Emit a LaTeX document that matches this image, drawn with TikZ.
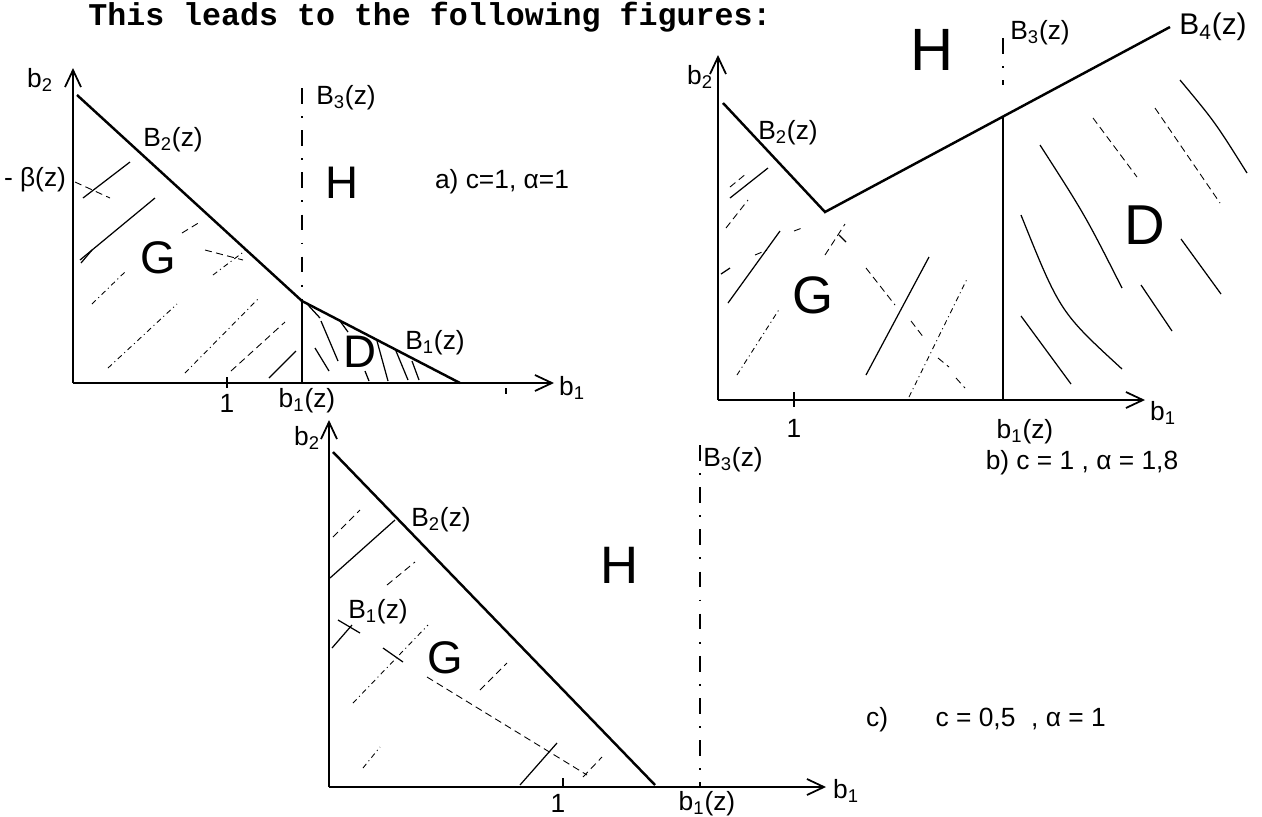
\documentclass[tikz,border=0pt]{standalone}
\usepackage{fontspec}
\setmainfont{Liberation Sans}
\newfontfamily\typewriter{Liberation Mono}
\usepackage{tikz}
\usetikzlibrary{arrows.meta}

\begin{document}
\begin{tikzpicture}[
  x=0.02cm, y=-0.02cm,
  axis/.style={line width=0.9pt, -{Straight Barb[length=3.4mm, width=3.2mm, line width=1pt]}},
  bound/.style={line width=1.4pt},
  guide/.style={line width=0.6pt, dash pattern=on 9pt off 7pt on 1pt off 7pt},
  hatch/.style={line width=0.7pt},
  dhatch/.style={line width=0.5pt, dash pattern=on 4pt off 2.5pt},
  ddhatch/.style={line width=0.5pt, dash pattern=on 3pt off 2pt on 0.6pt off 2pt},
  lab/.style={font=\fontsize{15}{15}\selectfont, inner sep=0pt},
  region/.style={font=\fontsize{26}{26}\selectfont, inner sep=0pt},
  param/.style={font=\fontsize{15}{15}\selectfont, inner sep=0pt},
]
\useasboundingbox (0,0) rectangle (1262,816);

% Title
\node[font=\typewriter\bfseries\fontsize{18}{18}\selectfont, anchor=base west, inner sep=0pt]
  (title) at (88,25) {This leads to the following figures:};

% Panel a
\coordinate (a0) at (73,383);
\coordinate (a-ytip) at (73,68);
\coordinate (a-xtip) at (554,383);
\coordinate (a-top) at (77,95);
\coordinate (a-kink) at (302,301);
\coordinate (a-end) at (460,383);
\coordinate (a-foot) at (302,383);
\coordinate (a-guide) at (302,88);
\draw[axis] (a0) -- (a-ytip);
\draw[axis] (a0) -- (a-xtip);
\draw[bound] (a-top) -- (a-kink) -- (a-end);
\draw[bound] (a-kink) -- (a-foot);
\draw[guide] (a-guide) -- (a-kink);
\draw[hatch] (227,377) -- (227,388);
\draw[hatch] (506,388) -- (506,394);

\foreach \xa/\ya/\xb/\yb in {83/198/130/162, 80/260/155/198, 81/263/92/250, 269/378/296/351,
    315/348/329/371, 321/321/338/361, 340/321/348/332, 377/341/388/381,
    396/351/408/380, 412/361/419/380, 365/371/369/381, 308/305/320/318}
  \draw[hatch] (\xa,\ya) -- (\xb,\yb);
\foreach \xa/\ya/\xb/\yb in {75/182/110/198, 182/233/200/222, 205/250/243/260, 231/371/285/322}
  \draw[dhatch] (\xa,\ya) -- (\xb,\yb);
\foreach \xa/\ya/\xb/\yb in {92/304/127/270, 108/368/177/304, 185/373/258/299, 213/275/246/250}
  \draw[ddhatch] (\xa,\ya) -- (\xb,\yb);

\node[lab] (a-b2) at (40,80) {b\textsubscript{2}};
\node[lab] (a-b1) at (572,388) {b\textsubscript{1}};
\node[lab] (a-beta) at (35,180) {- β(z)};
\node[lab] (a-B2) at (173,140) {B\textsubscript{2}(z)};
\node[lab] (a-B3) at (346,98) {B\textsubscript{3}(z)};
\node[lab] (a-B1) at (435,343) {B\textsubscript{1}(z)};
\node[lab] (a-one) at (227,403) {1};
\node[lab] (a-b1z) at (307,401) {b\textsubscript{1}(z)};
\node[region] (a-G) at (158,258) {G};
\node[region] (a-D) at (360,352) {D};
\node[region] (a-H) at (342,183) {H};
\node[param] (a-par) at (502,182) {a) c=1, α=1};

% Panel b
\coordinate (b0) at (718,400);
\coordinate (b-ytip) at (718,55);
\coordinate (b-xtip) at (1145,400);
\coordinate (b-top) at (723,103);
\coordinate (b-kink) at (825,212);
\coordinate (b-end) at (1170,27);
\coordinate (b-cut) at (1003,117);
\coordinate (b-foot) at (1003,400);
\draw[axis] (b0) -- (b-ytip);
\draw[axis] (b0) -- (b-xtip);
\draw[bound] (b-top) -- (b-kink) -- (b-end);
\draw[bound] (b-cut) -- (b-foot);
\draw[guide] (1003,38) -- (1003,85);
\draw[hatch] (794,392) -- (794,407);

\foreach \xa/\ya/\xb/\yb in {728/303/780/231, 730/198/768/168, 721/274/730/268, 866/375/929/257,
    839/235/846/242, 1021/316/1071/384, 1141/285/1172/331, 1181/239/1221/294}
  \draw[hatch] (\xa,\ya) -- (\xb,\yb);
\foreach \xa/\ya/\xb/\yb in {726/228/748/200, 730/187/747/173, 755/255/767/250, 794/231/802/228,
    825/255/845/224, 866/268/895/305, 911/321/924/338, 938/358/949/367, 956/378/965/388,
    1093/118/1137/177, 1155/108/1220/203}
  \draw[dhatch] (\xa,\ya) -- (\xb,\yb);
\foreach \xa/\ya/\xb/\yb in {737/375/780/308, 909/397/967/279}
  \draw[ddhatch] (\xa,\ya) -- (\xb,\yb);
\draw[hatch] (1021,215) .. controls (1060,312) .. (1122,369);
\draw[hatch] (1040,145) .. controls (1085,215) .. (1122,288);
\draw[hatch] (1180,80) .. controls (1215,122) .. (1247,173);

\node[lab] (b-b2) at (700,77) {b\textsubscript{2}};
\node[lab] (b-b1) at (1163,413) {b\textsubscript{1}};
\node[lab] (b-B2) at (788,133) {B\textsubscript{2}(z)};
\node[lab] (b-B3) at (1040,33) {B\textsubscript{3}(z)};
\node[lab, font=\fontsize{17}{17}\selectfont] (b-B4) at (1213,27) {B\textsubscript{4}(z)};
\node[lab] (b-one) at (794,428) {1};
\node[lab] (b-b1z) at (1025,432) {b\textsubscript{1}(z)};
\node[region, font=\fontsize{30}{30}\selectfont] (b-G) at (813,295) {G};
\node[region, font=\fontsize{32}{32}\selectfont] (b-D) at (1145,225) {D};
\node[region, font=\fontsize{34}{34}\selectfont] (b-H) at (932,50) {H};
\node[param] (b-par) at (1082,463) {b) c = 1 , α = 1,8};

% Panel c
\coordinate (c0) at (329,787);
\coordinate (c-ytip) at (329,420);
\coordinate (c-xtip) at (826,787);
\coordinate (c-top) at (333,452);
\coordinate (c-end) at (655,785);
\coordinate (c-guide) at (700,445);
\coordinate (c-foot) at (700,787);
\draw[axis] (c0) -- (c-ytip);
\draw[axis] (c0) -- (c-xtip);
\draw[bound] (c-top) -- (c-end);
\draw[guide] (c-guide) -- (c-foot);
\draw[hatch] (563,778) -- (563,786);

\foreach \xa/\ya/\xb/\yb in {330/578/395/520, 338/620/360/633, 332/648/352/625, 383/648/403/662,
    520/785/557/743}
  \draw[hatch] (\xa,\ya) -- (\xb,\yb);
\foreach \xa/\ya/\xb/\yb in {333/537/360/510, 387/585/415/562, 427/677/587/775, 480/690/507/663,
    583/777/602/757}
  \draw[dhatch] (\xa,\ya) -- (\xb,\yb);
\foreach \xa/\ya/\xb/\yb in {353/703/428/625, 363/768/380/747}
  \draw[ddhatch] (\xa,\ya) -- (\xb,\yb);

\node[lab] (c-b2) at (307,438) {b\textsubscript{2}};
\node[lab] (c-b1) at (846,791) {b\textsubscript{1}};
\node[lab] (c-B2) at (441,520) {B\textsubscript{2}(z)};
\node[lab] (c-B3) at (733,460) {B\textsubscript{3}(z)};
\node[lab] (c-B1) at (378,612) {B\textsubscript{1}(z)};
\node[lab] (c-one) at (558,803) {1};
\node[lab] (c-b1z) at (707,804) {b\textsubscript{1}(z)};
\node[region] (c-G) at (445,658) {G};
\node[region, font=\fontsize{30}{30}\selectfont] (c-H) at (620,565) {H};
\node[param] (c-par) at (986,720) {c)\hspace{1.8em}c = 0,5\hspace{0.6em}, α = 1};

\end{tikzpicture}
\end{document}
